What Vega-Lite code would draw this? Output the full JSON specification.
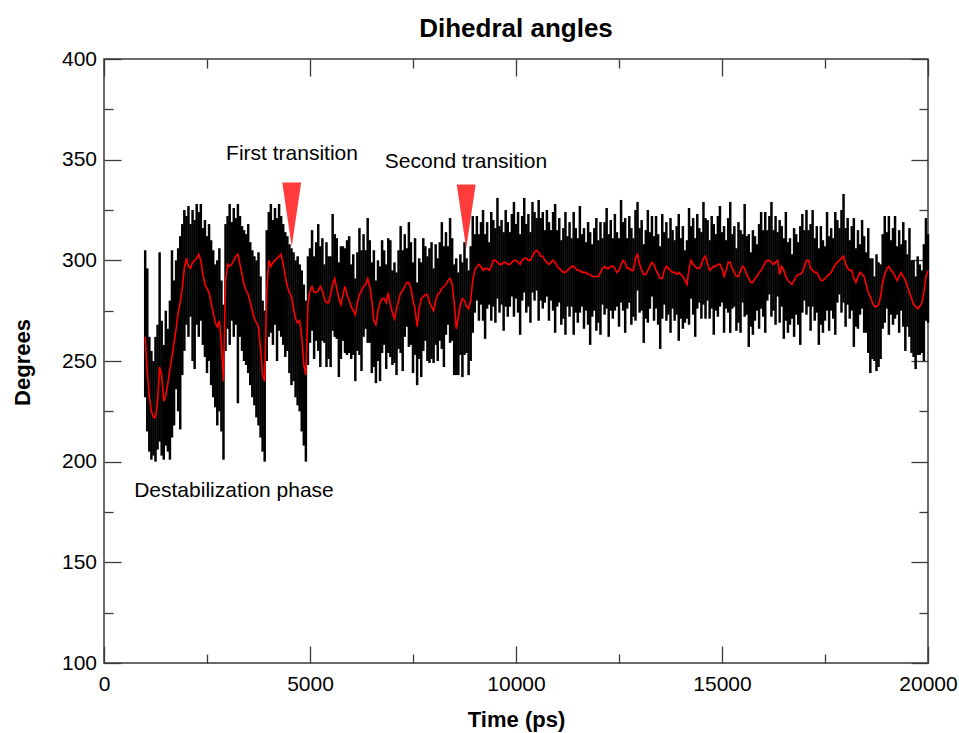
{
"$schema": "https://vega.github.io/schema/vega-lite/v6.json",
"width": 824, "height": 604,
"autosize": {"type": "none"},
"padding": {"left": 104, "top": 59, "right": 31, "bottom": 70},
"background": "white",
"title": {"text": "Dihedral angles", "fontSize": 26, "font": "Liberation Sans", "fontWeight": "bold", "color": "black", "anchor": "middle", "baseline": "alphabetic", "offset": 23, "dy": 38},
"config": {
 "font": "Liberation Sans",
 "view": {"stroke": "#3a3a3a", "strokeWidth": 1.5},
 "axis": {"domain": false, "grid": false, "tickColor": "#3a3a3a", "tickWidth": 1.3, "labelFont": "Liberation Sans", "labelFontSize": 21, "labelColor": "black", "titleFont": "Liberation Sans", "titleFontSize": 22, "titleFontWeight": "bold", "titleColor": "black", "labelFlush": false, "labelOverlap": false}
},
"datasets": {
 "d": [
{"t":1000,"l":232,"h":305,"m":262},{"t":1050,"l":215,"h":296,"m":245},{"t":1100,"l":205,"h":262,"m":232},{"t":1150,"l":201,"h":255,"m":225},{"t":1200,"l":203,"h":250,"m":222},{"t":1250,"l":200,"h":262,"m":222},{"t":1300,"l":206,"h":268,"m":230},{"t":1350,"l":210,"h":304,"m":247},{"t":1400,"l":203,"h":270,"m":243},{"t":1450,"l":201,"h":258,"m":230},
{"t":1500,"l":208,"h":275,"m":233},{"t":1550,"l":205,"h":266,"m":239},{"t":1600,"l":201,"h":280,"m":246},{"t":1650,"l":212,"h":305,"m":252},{"t":1700,"l":218,"h":290,"m":259},{"t":1750,"l":236,"h":300,"m":266},{"t":1800,"l":225,"h":306,"m":274},{"t":1850,"l":216,"h":312,"m":279},{"t":1900,"l":243,"h":318,"m":286},{"t":1950,"l":255,"h":325,"m":296},
{"t":2000,"l":268,"h":322,"m":301},{"t":2050,"l":262,"h":327,"m":297},{"t":2100,"l":272,"h":318,"m":296},{"t":2150,"l":250,"h":325,"m":299},{"t":2200,"l":246,"h":320,"m":300},{"t":2250,"l":268,"h":328,"m":301},{"t":2300,"l":262,"h":324,"m":303},{"t":2350,"l":270,"h":328,"m":300},{"t":2400,"l":258,"h":316,"m":293},{"t":2450,"l":252,"h":320,"m":288},
{"t":2500,"l":244,"h":312,"m":286},{"t":2550,"l":250,"h":318,"m":284},{"t":2600,"l":238,"h":310,"m":279},{"t":2650,"l":232,"h":305,"m":274},{"t":2700,"l":227,"h":298,"m":269},{"t":2750,"l":218,"h":300,"m":267},{"t":2800,"l":225,"h":306,"m":270},{"t":2850,"l":215,"h":290,"m":258},{"t":2900,"l":201,"h":278,"m":240},{"t":2950,"l":255,"h":318,"m":290},
{"t":3000,"l":266,"h":322,"m":298},{"t":3050,"l":258,"h":328,"m":297},{"t":3100,"l":270,"h":319,"m":298},{"t":3150,"l":262,"h":326,"m":300},{"t":3200,"l":268,"h":321,"m":302},{"t":3250,"l":229,"h":328,"m":303},{"t":3300,"l":262,"h":322,"m":298},{"t":3350,"l":255,"h":317,"m":293},{"t":3400,"l":250,"h":315,"m":288},{"t":3450,"l":248,"h":313,"m":285},
{"t":3500,"l":244,"h":318,"m":283},{"t":3550,"l":238,"h":309,"m":279},{"t":3600,"l":232,"h":305,"m":275},{"t":3650,"l":228,"h":302,"m":271},{"t":3700,"l":222,"h":300,"m":269},{"t":3750,"l":218,"h":304,"m":267},{"t":3800,"l":212,"h":292,"m":256},{"t":3850,"l":205,"h":280,"m":243},{"t":3900,"l":200,"h":275,"m":240},{"t":3950,"l":250,"h":315,"m":285},
{"t":4000,"l":262,"h":324,"m":300},{"t":4050,"l":264,"h":328,"m":297},{"t":4100,"l":258,"h":320,"m":299},{"t":4150,"l":268,"h":326,"m":300},{"t":4200,"l":250,"h":321,"m":301},{"t":4250,"l":265,"h":328,"m":302},{"t":4300,"l":262,"h":322,"m":303},{"t":4350,"l":258,"h":318,"m":298},{"t":4400,"l":252,"h":314,"m":292},{"t":4450,"l":255,"h":312,"m":287},
{"t":4500,"l":244,"h":308,"m":284},{"t":4550,"l":238,"h":306,"m":282},{"t":4600,"l":240,"h":304,"m":276},{"t":4650,"l":232,"h":300,"m":271},{"t":4700,"l":228,"h":302,"m":269},{"t":4750,"l":225,"h":298,"m":270},{"t":4800,"l":215,"h":295,"m":262},{"t":4850,"l":208,"h":288,"m":248},{"t":4900,"l":200,"h":280,"m":243},{"t":4950,"l":248,"h":302,"m":278},
{"t":5000,"l":259,"h":306,"m":285},{"t":5050,"l":265,"h":315,"m":287},{"t":5100,"l":251,"h":302,"m":284},{"t":5150,"l":260,"h":309,"m":284},{"t":5200,"l":255,"h":318,"m":285},{"t":5250,"l":247,"h":307,"m":287},{"t":5300,"l":260,"h":311,"m":285},{"t":5350,"l":259,"h":298,"m":281},{"t":5400,"l":247,"h":309,"m":279},{"t":5450,"l":251,"h":302,"m":279},
{"t":5500,"l":247,"h":302,"m":283},{"t":5550,"l":265,"h":323,"m":288},{"t":5600,"l":262,"h":313,"m":291},{"t":5650,"l":261,"h":311,"m":286},{"t":5700,"l":242,"h":299,"m":281},{"t":5750,"l":251,"h":307,"m":278},{"t":5800,"l":260,"h":307,"m":283},{"t":5850,"l":254,"h":306,"m":287},{"t":5900,"l":253,"h":310,"m":283},{"t":5950,"l":254,"h":312,"m":280},
{"t":6000,"l":251,"h":298,"m":277},{"t":6050,"l":253,"h":303,"m":275},{"t":6100,"l":240,"h":291,"m":273},{"t":6150,"l":255,"h":304,"m":279},{"t":6200,"l":253,"h":316,"m":283},{"t":6250,"l":245,"h":305,"m":285},{"t":6300,"l":262,"h":313,"m":287},{"t":6350,"l":266,"h":305,"m":288},{"t":6400,"l":259,"h":321,"m":291},{"t":6450,"l":259,"h":310,"m":287},
{"t":6500,"l":244,"h":299,"m":280},{"t":6550,"l":247,"h":305,"m":270},{"t":6600,"l":239,"h":290,"m":268},{"t":6650,"l":250,"h":300,"m":275},{"t":6700,"l":240,"h":297,"m":279},{"t":6750,"l":254,"h":310,"m":281},{"t":6800,"l":258,"h":305,"m":281},{"t":6850,"l":246,"h":298,"m":279},{"t":6900,"l":254,"h":311,"m":284},{"t":6950,"l":252,"h":310,"m":278},
{"t":7000,"l":248,"h":295,"m":274},{"t":7050,"l":249,"h":299,"m":271},{"t":7100,"l":243,"h":294,"m":276},{"t":7150,"l":256,"h":305,"m":280},{"t":7200,"l":254,"h":317,"m":284},{"t":7250,"l":245,"h":305,"m":285},{"t":7300,"l":262,"h":313,"m":287},{"t":7350,"l":267,"h":306,"m":289},{"t":7400,"l":257,"h":319,"m":289},{"t":7450,"l":258,"h":309,"m":286},
{"t":7500,"l":244,"h":299,"m":280},{"t":7550,"l":253,"h":311,"m":276},{"t":7600,"l":238,"h":289,"m":267},{"t":7650,"l":251,"h":301,"m":276},{"t":7700,"l":242,"h":299,"m":281},{"t":7750,"l":255,"h":311,"m":282},{"t":7800,"l":260,"h":307,"m":283},{"t":7850,"l":250,"h":302,"m":283},{"t":7900,"l":249,"h":306,"m":279},{"t":7950,"l":251,"h":309,"m":277},
{"t":8000,"l":249,"h":296,"m":275},{"t":8050,"l":258,"h":308,"m":280},{"t":8100,"l":250,"h":301,"m":283},{"t":8150,"l":260,"h":309,"m":284},{"t":8200,"l":256,"h":319,"m":286},{"t":8250,"l":247,"h":307,"m":287},{"t":8300,"l":263,"h":314,"m":288},{"t":8350,"l":268,"h":307,"m":290},{"t":8400,"l":259,"h":321,"m":291},{"t":8450,"l":260,"h":311,"m":288},
{"t":8500,"l":243,"h":298,"m":279},{"t":8550,"l":243,"h":301,"m":266},{"t":8600,"l":243,"h":294,"m":272},{"t":8650,"l":253,"h":303,"m":278},{"t":8700,"l":242,"h":299,"m":281},{"t":8750,"l":253,"h":309,"m":280},{"t":8800,"l":254,"h":301,"m":277},{"t":8850,"l":243,"h":295,"m":276},{"t":8900,"l":250,"h":307,"m":280},{"t":8950,"l":264,"h":322,"m":290},
{"t":9000,"l":274,"h":313,"m":295},{"t":9050,"l":280,"h":322,"m":297},{"t":9100,"l":270,"h":313,"m":298},{"t":9150,"l":278,"h":319,"m":297},{"t":9200,"l":270,"h":325,"m":295},{"t":9250,"l":261,"h":313,"m":296},{"t":9300,"l":276,"h":319,"m":296},{"t":9350,"l":278,"h":309,"m":295},{"t":9400,"l":270,"h":324,"m":297},{"t":9450,"l":277,"h":320,"m":300},
{"t":9500,"l":269,"h":316,"m":300},{"t":9550,"l":281,"h":331,"m":299},{"t":9600,"l":274,"h":317,"m":298},{"t":9650,"l":278,"h":320,"m":298},{"t":9700,"l":265,"h":314,"m":299},{"t":9750,"l":277,"h":325,"m":299},{"t":9800,"l":272,"h":319,"m":298},{"t":9850,"l":277,"h":314,"m":298},{"t":9900,"l":282,"h":323,"m":299},{"t":9950,"l":272,"h":329,"m":300},
{"t":10000,"l":281,"h":318,"m":300},{"t":10050,"l":274,"h":324,"m":299},{"t":10100,"l":263,"h":313,"m":298},{"t":10150,"l":280,"h":322,"m":300},{"t":10200,"l":284,"h":331,"m":301},{"t":10250,"l":274,"h":318,"m":301},{"t":10300,"l":277,"h":323,"m":300},{"t":10350,"l":269,"h":314,"m":300},{"t":10400,"l":284,"h":329,"m":302},{"t":10450,"l":280,"h":324,"m":304},
{"t":10500,"l":285,"h":321,"m":305},{"t":10550,"l":270,"h":330,"m":304},{"t":10600,"l":280,"h":321,"m":302},{"t":10650,"l":276,"h":324,"m":302},{"t":10700,"l":279,"h":315,"m":300},{"t":10750,"l":282,"h":325,"m":299},{"t":10800,"l":270,"h":319,"m":298},{"t":10850,"l":280,"h":315,"m":299},{"t":10900,"l":275,"h":324,"m":300},{"t":10950,"l":264,"h":328,"m":299},
{"t":11000,"l":277,"h":315,"m":297},{"t":11050,"l":279,"h":321,"m":296},{"t":11100,"l":268,"h":310,"m":295},{"t":11150,"l":271,"h":316,"m":294},{"t":11200,"l":263,"h":324,"m":294},{"t":11250,"l":277,"h":312,"m":295},{"t":11300,"l":272,"h":319,"m":296},{"t":11350,"l":277,"h":311,"m":297},{"t":11400,"l":263,"h":324,"m":297},{"t":11450,"l":274,"h":316,"m":296},
{"t":11500,"l":269,"h":311,"m":295},{"t":11550,"l":274,"h":327,"m":295},{"t":11600,"l":277,"h":313,"m":294},{"t":11650,"l":266,"h":316,"m":294},{"t":11700,"l":275,"h":309,"m":294},{"t":11750,"l":268,"h":319,"m":293},{"t":11800,"l":258,"h":314,"m":293},{"t":11850,"l":272,"h":308,"m":292},{"t":11900,"l":275,"h":316,"m":292},{"t":11950,"l":265,"h":321,"m":292},
{"t":12000,"l":269,"h":310,"m":292},{"t":12050,"l":263,"h":319,"m":294},{"t":12100,"l":278,"h":311,"m":296},{"t":12150,"l":273,"h":319,"m":297},{"t":12200,"l":276,"h":326,"m":296},{"t":12250,"l":262,"h":313,"m":296},{"t":12300,"l":275,"h":320,"m":297},{"t":12350,"l":271,"h":311,"m":297},{"t":12400,"l":275,"h":323,"m":296},{"t":12450,"l":277,"h":314,"m":294},
{"t":12500,"l":267,"h":311,"m":295},{"t":12550,"l":279,"h":330,"m":298},{"t":12600,"l":275,"h":319,"m":300},{"t":12650,"l":264,"h":321,"m":299},{"t":12700,"l":276,"h":311,"m":296},{"t":12750,"l":279,"h":322,"m":296},{"t":12800,"l":268,"h":316,"m":295},{"t":12850,"l":272,"h":311,"m":295},{"t":12900,"l":270,"h":325,"m":301},{"t":12950,"l":285,"h":329,"m":303},
{"t":13000,"l":274,"h":316,"m":298},{"t":13050,"l":275,"h":320,"m":295},{"t":13100,"l":259,"h":308,"m":293},{"t":13150,"l":271,"h":315,"m":293},{"t":13200,"l":269,"h":325,"m":295},{"t":13250,"l":276,"h":314,"m":297},{"t":13300,"l":282,"h":322,"m":299},{"t":13350,"l":270,"h":312,"m":298},{"t":13400,"l":276,"h":322,"m":295},{"t":13450,"l":268,"h":313,"m":293},
{"t":13500,"l":256,"h":307,"m":291},{"t":13550,"l":271,"h":323,"m":291},{"t":13600,"l":278,"h":314,"m":295},{"t":13650,"l":270,"h":319,"m":297},{"t":13700,"l":273,"h":311,"m":296},{"t":13750,"l":264,"h":321,"m":295},{"t":13800,"l":276,"h":315,"m":294},{"t":13850,"l":270,"h":310,"m":294},{"t":13900,"l":273,"h":317,"m":293},{"t":13950,"l":260,"h":323,"m":294},
{"t":14000,"l":271,"h":311,"m":293},{"t":14050,"l":266,"h":317,"m":292},{"t":14100,"l":269,"h":305,"m":290},{"t":14150,"l":271,"h":310,"m":288},{"t":14200,"l":268,"h":326,"m":296},{"t":14250,"l":281,"h":317,"m":300},{"t":14300,"l":273,"h":321,"m":298},{"t":14350,"l":262,"h":311,"m":297},{"t":14400,"l":276,"h":323,"m":296},{"t":14450,"l":279,"h":316,"m":296},
{"t":14500,"l":271,"h":314,"m":298},{"t":14550,"l":278,"h":329,"m":301},{"t":14600,"l":271,"h":321,"m":302},{"t":14650,"l":280,"h":320,"m":298},{"t":14700,"l":271,"h":310,"m":295},{"t":14750,"l":276,"h":322,"m":296},{"t":14800,"l":263,"h":318,"m":297},{"t":14850,"l":275,"h":313,"m":297},{"t":14900,"l":272,"h":322,"m":298},{"t":14950,"l":277,"h":327,"m":298},
{"t":15000,"l":279,"h":314,"m":296},{"t":15050,"l":264,"h":317,"m":292},{"t":15100,"l":276,"h":310,"m":295},{"t":15150,"l":274,"h":321,"m":299},{"t":15200,"l":264,"h":329,"m":299},{"t":15250,"l":276,"h":313,"m":296},{"t":15300,"l":277,"h":317,"m":294},{"t":15350,"l":265,"h":306,"m":292},{"t":15400,"l":269,"h":319,"m":292},{"t":15450,"l":264,"h":315,"m":295},
{"t":15500,"l":279,"h":313,"m":297},{"t":15550,"l":272,"h":328,"m":296},{"t":15600,"l":273,"h":312,"m":293},{"t":15650,"l":257,"h":313,"m":291},{"t":15700,"l":267,"h":304,"m":289},{"t":15750,"l":263,"h":315,"m":289},{"t":15800,"l":270,"h":312,"m":291},{"t":15850,"l":275,"h":308,"m":292},{"t":15900,"l":266,"h":318,"m":294},{"t":15950,"l":276,"h":324,"m":295},
{"t":16000,"l":272,"h":315,"m":297},{"t":16050,"l":264,"h":324,"m":299},{"t":16100,"l":280,"h":315,"m":300},{"t":16150,"l":283,"h":322,"m":300},{"t":16200,"l":272,"h":329,"m":299},{"t":16250,"l":275,"h":315,"m":298},{"t":16300,"l":268,"h":322,"m":299},{"t":16350,"l":282,"h":314,"m":300},{"t":16400,"l":269,"h":320,"m":293},{"t":16450,"l":277,"h":317,"m":297},
{"t":16500,"l":261,"h":311,"m":295},{"t":16550,"l":270,"h":324,"m":292},{"t":16600,"l":264,"h":309,"m":290},{"t":16650,"l":268,"h":311,"m":289},{"t":16700,"l":271,"h":303,"m":288},{"t":16750,"l":262,"h":316,"m":290},{"t":16800,"l":273,"h":313,"m":292},{"t":16850,"l":268,"h":309,"m":293},{"t":16900,"l":258,"h":317,"m":293},{"t":16950,"l":274,"h":323,"m":294},
{"t":17000,"l":280,"h":315,"m":297},{"t":17050,"l":273,"h":325,"m":300},{"t":17100,"l":277,"h":315,"m":300},{"t":17150,"l":265,"h":318,"m":296},{"t":17200,"l":277,"h":325,"m":295},{"t":17250,"l":270,"h":311,"m":294},{"t":17300,"l":274,"h":317,"m":294},{"t":17350,"l":258,"h":306,"m":292},{"t":17400,"l":268,"h":317,"m":290},{"t":17450,"l":264,"h":310,"m":290},
{"t":17500,"l":270,"h":307,"m":291},{"t":17550,"l":275,"h":324,"m":292},{"t":17600,"l":265,"h":312,"m":293},{"t":17650,"l":275,"h":316,"m":294},{"t":17700,"l":271,"h":311,"m":296},{"t":17750,"l":263,"h":324,"m":298},{"t":17800,"l":279,"h":320,"m":299},{"t":17850,"l":283,"h":316,"m":300},{"t":17900,"l":274,"h":325,"m":301},{"t":17950,"l":279,"h":333,"m":302},
{"t":18000,"l":267,"h":316,"m":298},{"t":18050,"l":278,"h":321,"m":296},{"t":18100,"l":271,"h":310,"m":295},{"t":18150,"l":275,"h":317,"m":295},{"t":18200,"l":257,"h":321,"m":291},{"t":18250,"l":267,"h":306,"m":289},{"t":18300,"l":266,"h":315,"m":292},{"t":18350,"l":273,"h":308,"m":294},{"t":18400,"l":276,"h":320,"m":293},{"t":18450,"l":264,"h":312,"m":292},
{"t":18500,"l":264,"h":304,"m":288},{"t":18550,"l":254,"h":316,"m":284},{"t":18600,"l":244,"h":301,"m":282},{"t":18650,"l":251,"h":301,"m":279},{"t":18700,"l":250,"h":292,"m":277},{"t":18750,"l":245,"h":303,"m":277},{"t":18800,"l":247,"h":299,"m":278},{"t":18850,"l":251,"h":298,"m":282},{"t":18900,"l":266,"h":313,"m":289},{"t":18950,"l":269,"h":322,"m":293},
{"t":19000,"l":276,"h":314,"m":296},{"t":19050,"l":263,"h":322,"m":297},{"t":19100,"l":273,"h":310,"m":295},{"t":19150,"l":268,"h":316,"m":294},{"t":19200,"l":271,"h":322,"m":292},{"t":19250,"l":273,"h":307,"m":290},{"t":19300,"l":264,"h":315,"m":292},{"t":19350,"l":275,"h":308,"m":294},{"t":19400,"l":267,"h":319,"m":292},{"t":19450,"l":255,"h":310,"m":290},
{"t":19500,"l":267,"h":303,"m":287},{"t":19550,"l":262,"h":316,"m":284},{"t":19600,"l":254,"h":300,"m":281},{"t":19650,"l":252,"h":300,"m":278},{"t":19700,"l":246,"h":292,"m":277},{"t":19750,"l":253,"h":302,"m":276},{"t":19800,"l":253,"h":298,"m":277},{"t":19850,"l":254,"h":295,"m":279},{"t":19900,"l":250,"h":308,"m":284},{"t":19950,"l":270,"h":321,"m":292},
{"t":20000,"l":269,"h":313,"m":295}
 ],
 "tri": [{"t": 4556, "v": 322.7}, {"t": 8791, "v": 321.8}],
 "ann": [
  {"t": 4563, "deg": 352.8, "label": "First transition"},
  {"t": 8786, "deg": 348.8, "label": "Second transition"},
  {"t": 3155, "deg": 185.4, "label": "Destabilization phase"}
 ]
},
"layer": [
 {
  "data": {"name": "d"},
  "mark": {"type": "rule", "color": "black", "strokeWidth": 2.5},
  "encoding": {
   "x": {"field": "t", "type": "quantitative", "scale": {"domain": [0, 20000], "nice": false, "zero": false},
         "axis": {"orient": "bottom", "values": [0, 5000, 10000, 15000, 20000], "format": "d", "tickSize": -17, "labelPadding": 27, "title": "Time (ps)", "titleY": 63, "titleBaseline": "alphabetic"}},
   "y": {"field": "l", "type": "quantitative", "scale": {"domain": [100, 400], "nice": false, "zero": false},
         "axis": {"orient": "left", "values": [100, 150, 200, 250, 300, 350, 400], "format": "d", "tickSize": -17, "labelPadding": 24.5, "title": "Degrees", "titleX": -75, "titleY": 303, "titleAngle": 270, "titleAlign": "center", "titleBaseline": "alphabetic"}},
   "y2": {"field": "h"}
  }
 },
 {
  "data": {"name": "d"},
  "mark": {"type": "line", "color": "#ff0000", "strokeWidth": 1.6},
  "encoding": {
   "x": {"field": "t", "type": "quantitative", "scale": {"domain": [0, 20000], "nice": false, "zero": false},
         "axis": {"orient": "top", "values": [0, 5000, 10000, 15000, 20000], "tickSize": -17, "labels": false, "title": null}},
   "y": {"field": "m", "type": "quantitative", "scale": {"domain": [100, 400], "nice": false, "zero": false},
         "axis": {"orient": "right", "values": [100, 150, 200, 250, 300, 350, 400], "tickSize": -17, "labels": false, "title": null}}
  }
 },
 {
  "data": {"name": "tri"},
  "mark": {"type": "point", "shape": "M-0.295,-1L0.295,-1L0,1Z", "filled": true, "color": "#ff3b3b", "opacity": 1, "size": 4100, "strokeWidth": 0},
  "encoding": {
   "x": {"field": "t", "type": "quantitative", "scale": {"domain": [0, 20000], "nice": false, "zero": false},
         "axis": {"orient": "bottom", "values": [2500, 7500, 12500, 17500], "tickSize": -9, "labels": false, "title": null}},
   "y": {"field": "v", "type": "quantitative", "scale": {"domain": [100, 400], "nice": false, "zero": false},
         "axis": {"orient": "left", "values": [125, 175, 225, 275, 325, 375], "tickSize": -9, "labels": false, "title": null}}
  }
 },
 {
  "data": {"name": "ann"},
  "mark": {"type": "text", "fontSize": 21, "font": "Liberation Sans", "color": "black", "baseline": "middle", "align": "center"},
  "encoding": {
   "x": {"field": "t", "type": "quantitative", "scale": {"domain": [0, 20000], "nice": false, "zero": false},
         "axis": {"orient": "top", "values": [2500, 7500, 12500, 17500], "tickSize": -9, "labels": false, "title": null}},
   "y": {"field": "deg", "type": "quantitative", "scale": {"domain": [100, 400], "nice": false, "zero": false},
         "axis": {"orient": "right", "values": [125, 175, 225, 275, 325, 375], "tickSize": -9, "labels": false, "title": null}},
   "text": {"field": "label"}
  }
 }
],
"resolve": {"axis": {"x": "independent", "y": "independent"}}
}
